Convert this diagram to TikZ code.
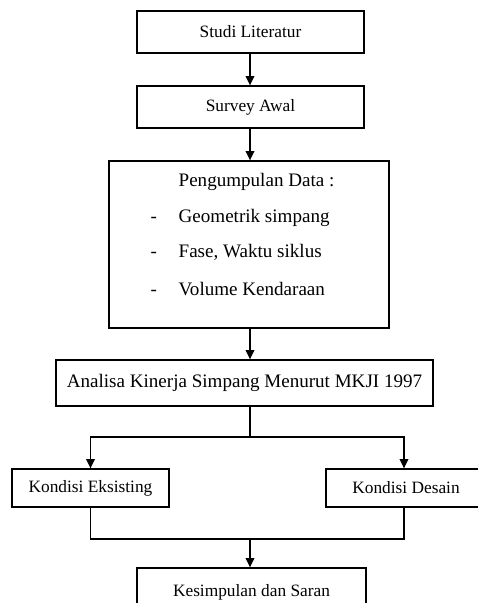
\documentclass[tikz,border=0pt]{standalone}
\usepackage{fontspec}
\setmainfont{Liberation Serif}
\usetikzlibrary{arrows.meta,calc}

\tikzset{every picture/.style={line width=1pt}}
\tikzset{
	box/.style={draw, line width=1pt, inner sep=0pt, align=center, font=\fontsize{13}{15}\selectfont},
	bigbox/.style={box, font=\fontsize{14.3}{17}\selectfont},
	item/.style={anchor=west, inner sep=0pt, text height=10pt, text depth=3pt, font=\fontsize{14.3}{17}\selectfont},
	arrow/.style={-{Triangle[length=7pt,width=6.5pt]}}
}

\begin{document}
\begin{tikzpicture}[x=0.75pt,y=0.75pt,yscale=-1,xscale=1]
	\clip (0,0) rectangle (478,603);
	\useasboundingbox (0,0) rectangle (478,603);

	%Shape: Rectangle [id:lit] 
	\node [box, minimum width=170.25pt, minimum height=31.5pt] (lit) at (250.5,32) {Studi Literatur};
	%Shape: Rectangle [id:survey] 
	\node [box, minimum width=170.25pt, minimum height=31.5pt] (survey) at (250.5,107) {Survey Awal};
	%Shape: Rectangle [id:data] 
	\node [box, minimum width=210pt, minimum height=125.25pt] (data) at (249,244.5) {};
	%Shape: Rectangle [id:analisa] 
	\node [bigbox, minimum width=282.75pt, minimum height=34.5pt] (analisa) at (244.5,383) {Analisa Kinerja Simpang Menurut MKJI 1997};
	%Shape: Rectangle [id:eks] 
	\node [box, minimum width=117.75pt, minimum height=28.5pt] (eks) at (90.5,488) {Kondisi Eksisting};
	%Shape: Rectangle [id:des] 
	\node [box, minimum width=120pt, minimum height=28.5pt] (des) at (406,488) {Kondisi Desain};
	%Shape: Rectangle [id:simpul] 
	\node [box, minimum width=171.75pt, minimum height=36pt] (simpul) at (251.5,592) {Kesimpulan dan Saran};

	% Text Node
	\node [item] (judul) at (178,182) {Pengumpulan Data :};
	% Text Node
	\node [item] (dash1) at (150,218) {-};
	\node [item] (geo) at (178,218) {Geometrik simpang};
	% Text Node
	\node [item] (dash2) at (150,253) {-};
	\node [item] (fase) at (178,253) {Fase, Waktu siklus};
	% Text Node
	\node [item] (dash3) at (150,291) {-};
	\node [item] (vol) at (178,291) {Volume Kendaraan};

	\coordinate (split) at (250,437);
	\coordinate (join) at (250,539);

	%Straight Lines [id:arrows] 
	\draw [arrow] (lit.south -| split) -- (survey.north -| split);
	\draw [arrow] (survey.south -| split) -- (data.north -| split);
	\draw [arrow] (data.south -| split) -- (analisa.north -| split);
	\draw (analisa.south -| split) -- (split);
	\draw [arrow] (split) -| (eks.north);
	\draw [arrow] (split) -| ($(des.north)+(-2,0)$);
	\draw (eks.south) |- (join);
	\draw (join) -| ($(des.south)+(-2,0)$);
	\draw [arrow] (join) -- (simpul.north -| join);

\end{tikzpicture}
\end{document}
